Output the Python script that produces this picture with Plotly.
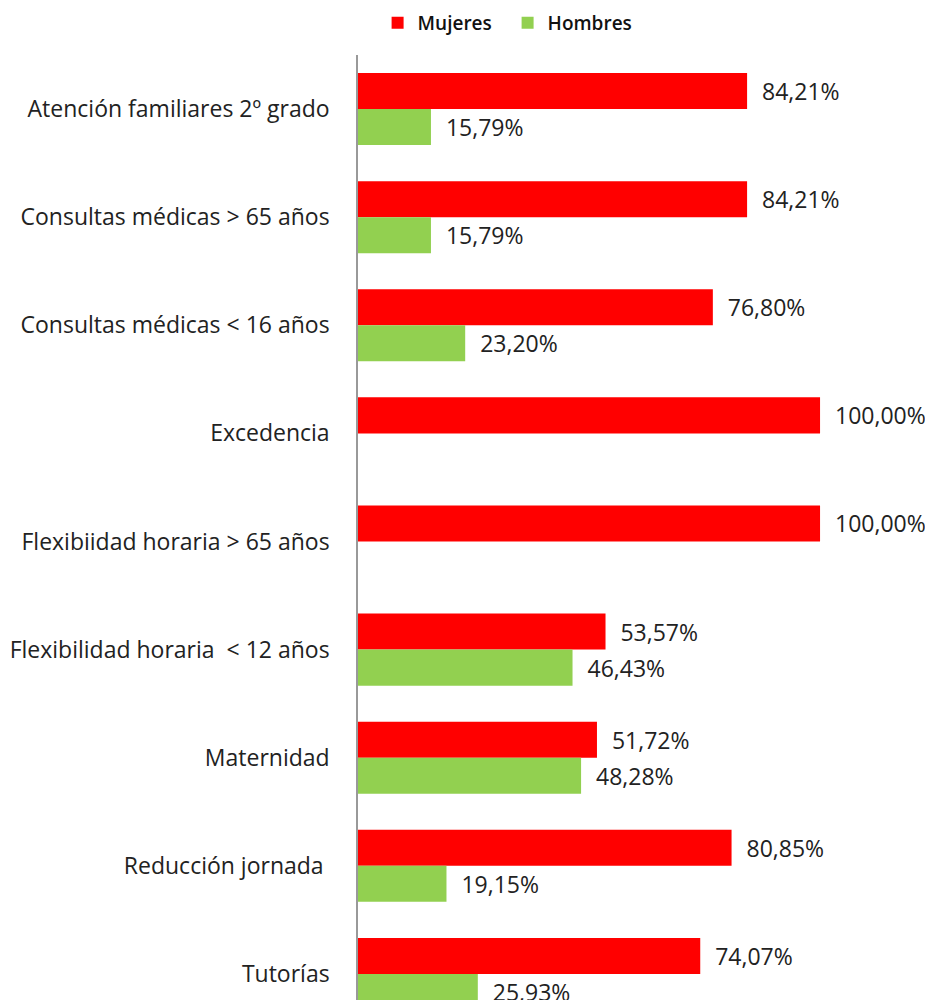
import plotly.graph_objects as go

categories = [
    "Atención familiares 2º grado",
    "Consultas médicas > 65 años",
    "Consultas médicas < 16 años",
    "Excedencia",
    "Flexibiidad horaria > 65 años",
    "Flexibilidad horaria  < 12 años",
    "Maternidad",
    "Reducción jornada ",
    "Tutorías",
]
mujeres = [84.21, 84.21, 76.80, 100.00, 100.00, 53.57, 51.72, 80.85, 74.07]
hombres = [15.79, 15.79, 23.20, None, None, 46.43, 48.28, 19.15, 25.93]


def fmt(v):
    if v is None:
        return None
    return "\u00a0\u00a0" + f"{v:.2f}".replace(".", ",") + "%"


font_family = "Open Sans, Lato, sans-serif"
label_size = 23

fig = go.Figure()
fig.add_trace(go.Bar(
    name="Mujeres", y=categories, x=mujeres, orientation="h",
    marker=dict(color="#FF0000", line=dict(width=0)),
    text=[fmt(v) for v in mujeres], textposition="outside",
    textfont=dict(size=label_size, color="#222222", family=font_family),
    cliponaxis=False,
))
fig.add_trace(go.Bar(
    name="Hombres", y=categories, x=hombres, orientation="h",
    marker=dict(color="#92D050", line=dict(width=0)),
    text=[fmt(v) for v in hombres], textposition="outside",
    textfont=dict(size=label_size, color="#222222", family=font_family),
    cliponaxis=False,
))

fig.update_layout(
    width=933, height=1000,
    margin=dict(l=350, r=23, t=47, b=8, autoexpand=False),
    paper_bgcolor="white", plot_bgcolor="white",
    barmode="group", bargap=1/3, bargroupgap=0,
    font=dict(family=font_family, color="#222222"),
    showlegend=True,
    legend=dict(
        orientation="h", x=0.035, xanchor="left", y=1.034, yanchor="middle",
        font=dict(size=19, color="#111111", family=font_family, weight=600),
        traceorder="normal", entrywidth=85,
        bgcolor="rgba(0,0,0,0)",
    ),
    xaxis=dict(range=[0, 121.2], showgrid=False, zeroline=False,
               showticklabels=False, showline=False, ticks="", automargin=False),
    yaxis=dict(
        categoryorder="array", categoryarray=categories,
        range=[8.241, -0.5], showgrid=False, zeroline=False,
        showline=True, linecolor="#999999", linewidth=1.5,
        ticks="", ticklabelstandoff=22, automargin=False,
        tickfont=dict(size=label_size, color="#222222", family=font_family),
    ),
    uniformtext=dict(mode=False),
)

fig.write_html("out.html")
